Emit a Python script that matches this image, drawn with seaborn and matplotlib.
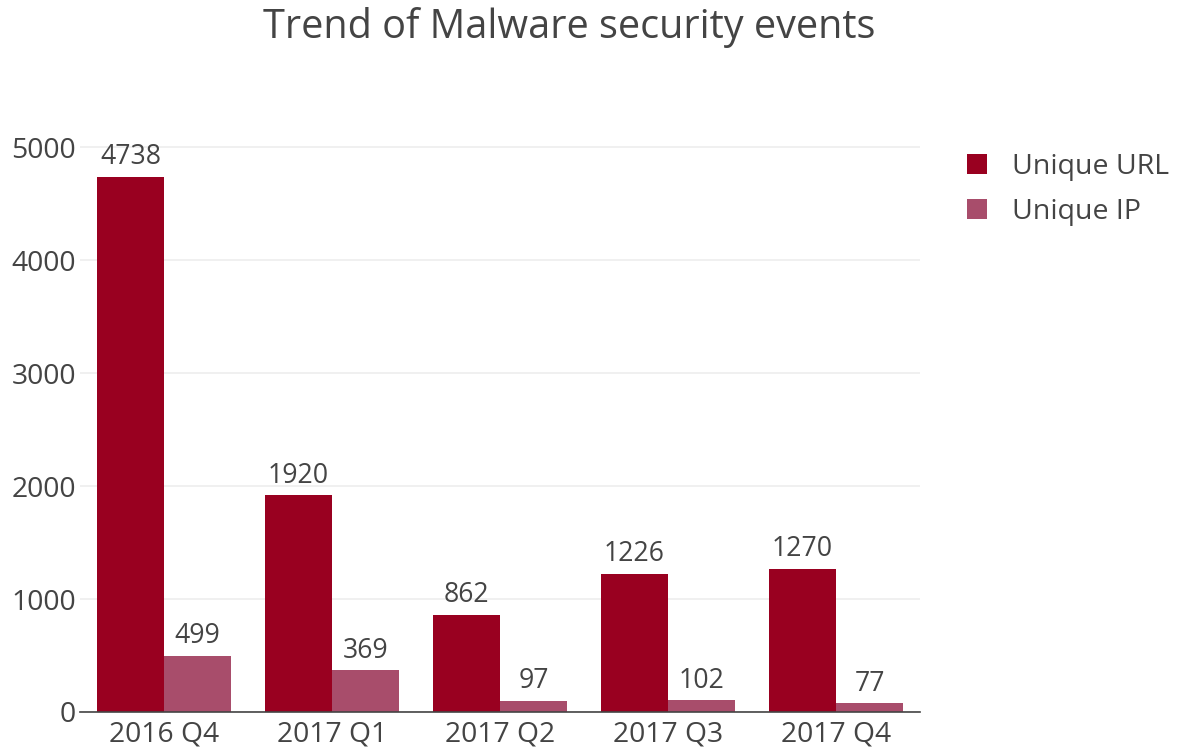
import matplotlib
matplotlib.use("Agg")
import matplotlib.pyplot as plt
import seaborn as sns
import pandas as pd
from matplotlib.patches import Patch

quarters = ["2016 Q4", "2017 Q1", "2017 Q2", "2017 Q3", "2017 Q4"]
unique_url = [4738, 1920, 862, 1226, 1270]
unique_ip = [499, 369, 97, 102, 77]
series_names = ["Unique URL", "Unique IP"]
colors = ["#990020", "#a84d6b"]
yticks = [0, 1000, 2000, 3000, 4000, 5000]

df = pd.DataFrame({
    "quarter": quarters * 2,
    "value": unique_url + unique_ip,
    "series": [series_names[0]] * len(quarters) + [series_names[1]] * len(quarters),
})

sns.set_theme(style="white")
plt.rcParams["font.family"] = ["Open Sans", "DejaVu Sans"]
text_color = "#444444"

fig = plt.figure(figsize=(11.82, 7.51), dpi=100)
ax = fig.add_axes([80 / 1182, 39 / 751, 840 / 1182, 612 / 751])

sns.barplot(data=df, x="quarter", y="value", hue="series", order=quarters,
            hue_order=series_names, palette=colors, width=0.8, ax=ax,
            saturation=1, legend=False, linewidth=0, errorbar=None)

for cont in ax.containers:
    ax.bar_label(cont, labels=[f"{int(v.get_height())}" for v in cont],
                 padding=4, fontsize=19.2, color=text_color)

ax.set_xlim(-0.5, 4.5)
ax.set_ylim(0, 5420)
ax.set_yticks(yticks)
ax.set_yticklabels([str(t) for t in yticks])
ax.yaxis.grid(True, color="#eeeeee", linewidth=1.2)
ax.set_axisbelow(True)
for s in ["top", "right", "left"]:
    ax.spines[s].set_visible(False)
ax.spines["bottom"].set_color("#444444")
ax.spines["bottom"].set_linewidth(1.2)
ax.tick_params(axis="both", length=0, labelsize=20.3, colors=text_color)
ax.tick_params(axis="x", pad=6)
ax.tick_params(axis="y", pad=3)
ax.set_xlabel("")
ax.set_ylabel("")

fig.text(569 / 1182, 1 - 28 / 751, "Trend of Malware security events",
         ha="center", va="center", fontsize=28.5, color=text_color)

handles = [Patch(facecolor=c, edgecolor="none") for c in colors]
fig.legend(handles, series_names, loc="upper left",
           bbox_to_anchor=(941 / 1182, 1 - 127 / 751), frameon=False,
           fontsize=20.5, labelcolor=text_color, handlelength=0.7,
           handleheight=0.7, handletextpad=0.9, labelspacing=0.62)

fig.savefig("out.png", dpi=100)
